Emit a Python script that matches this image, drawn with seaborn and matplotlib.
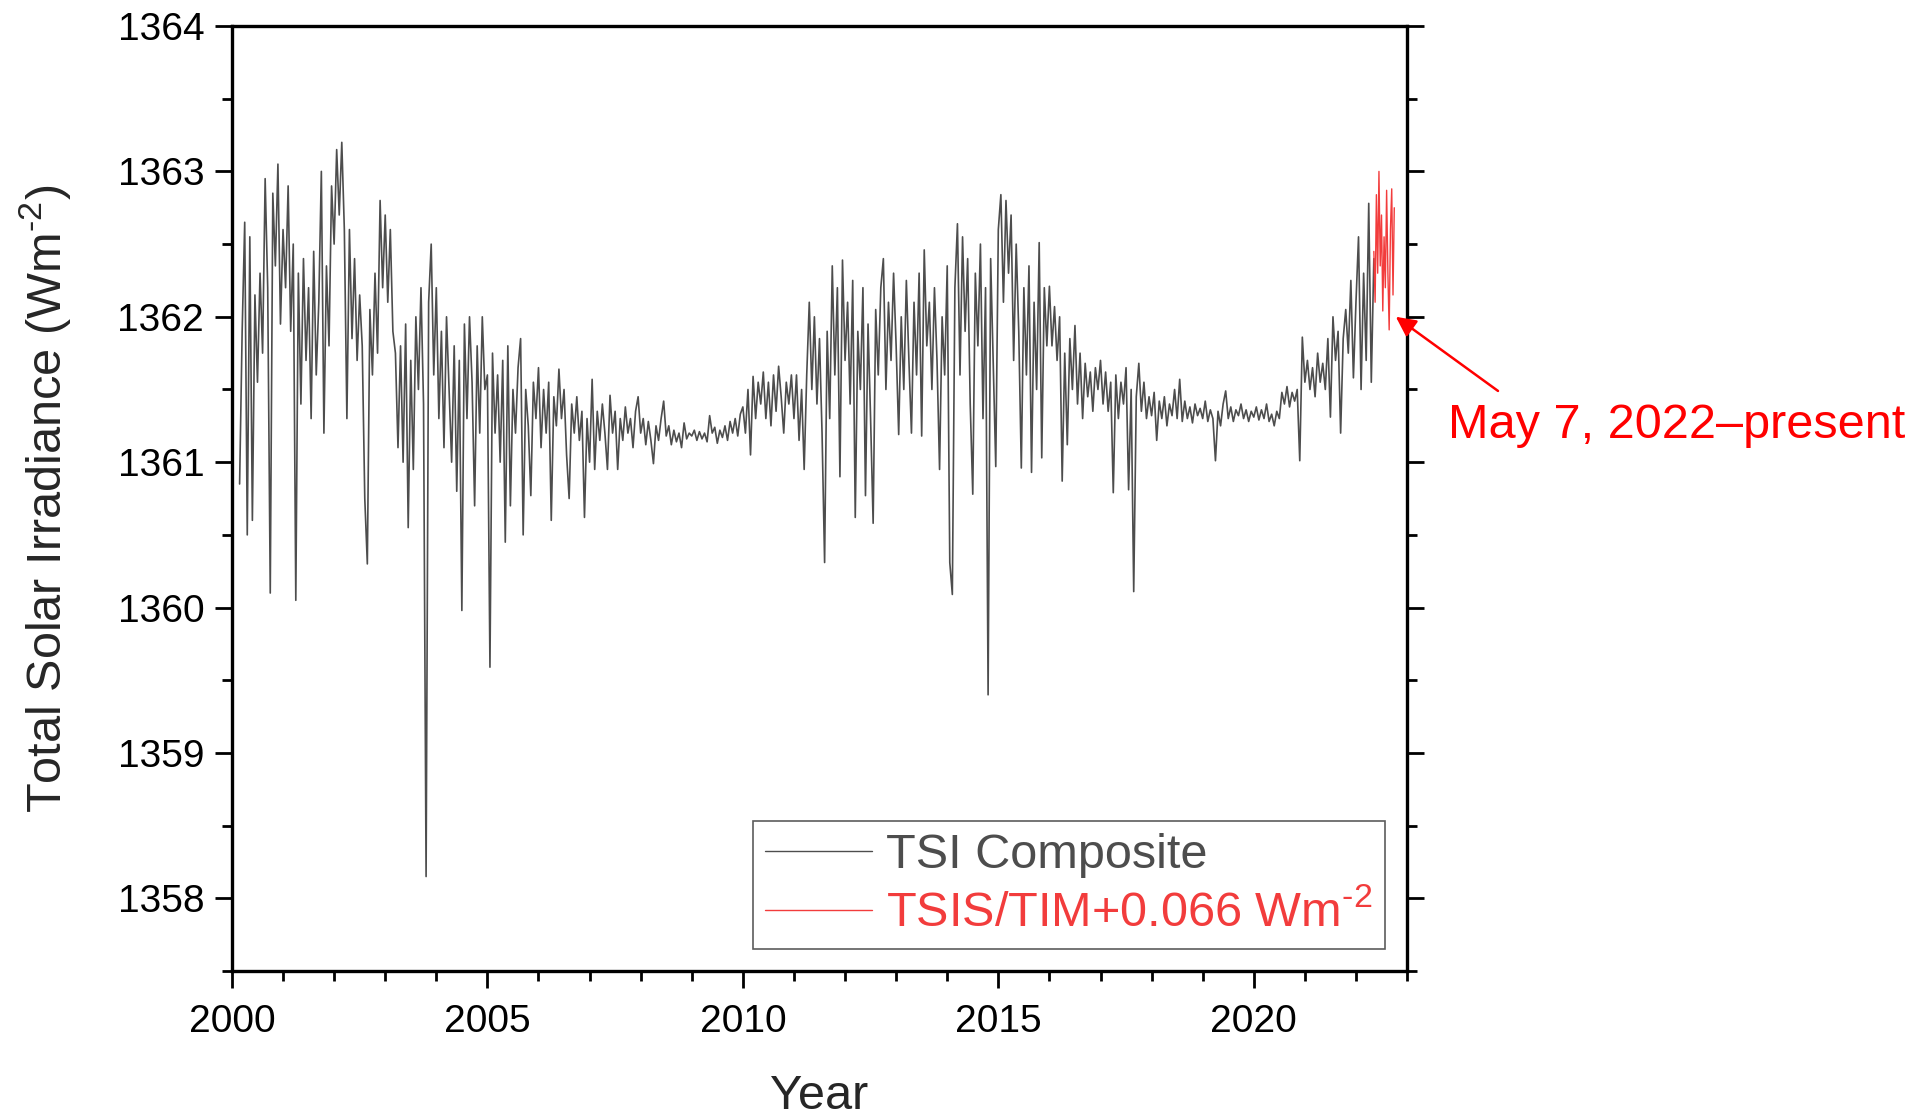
import numpy as np
import pandas as pd
import matplotlib
matplotlib.use("Agg")
import matplotlib.pyplot as plt
from matplotlib.ticker import MultipleLocator
import seaborn as sns

# TSI composite, sampled every 0.05 yr from 2000.15 to 2022.35 (W m-2)
composite_start = 2000.15
composite_step = 0.05
tsi_composite = [
    # 2000.15 - 2000.95
    1360.85, 1361.9, 1362.65, 1360.5, 1362.55, 1360.6, 1362.15, 1361.55, 1362.3, 1361.75,
    1362.95, 1362.2, 1360.1, 1362.85, 1362.35, 1363.05, 1361.95,
    # 2001
    1362.6, 1362.2, 1362.9, 1361.9, 1362.5, 1360.05, 1362.3, 1361.4, 1362.4, 1361.7,
    1362.2, 1361.3, 1362.45, 1361.6, 1362.1, 1363.0, 1361.2, 1362.35, 1361.8, 1362.9,
    # 2002
    1362.5, 1363.15, 1362.7, 1363.2, 1362.6, 1361.3, 1362.6, 1361.85, 1362.4, 1361.7,
    1362.15, 1361.8, 1360.75, 1360.3, 1362.05, 1361.6, 1362.3, 1361.75, 1362.8, 1362.2,
    # 2003
    1362.7, 1362.1, 1362.6, 1361.9, 1361.75, 1361.1, 1361.8, 1361.0, 1361.95, 1360.55,
    1361.7, 1360.95, 1362.0, 1361.5, 1362.2, 1361.4, 1358.15, 1362.1, 1362.5, 1361.6,
    # 2004
    1362.2, 1361.3, 1361.9, 1361.1, 1362.0, 1361.5, 1361.0, 1361.8, 1360.8, 1361.7,
    1359.98, 1361.95, 1361.3, 1362.0, 1361.55, 1360.7, 1361.8, 1361.2, 1362.0, 1361.5,
    # 2005
    1361.6, 1359.59, 1361.75, 1361.2, 1361.6, 1361.0, 1361.7, 1360.45, 1361.8, 1360.7,
    1361.5, 1361.2, 1361.65, 1361.85, 1360.5, 1361.5, 1361.25, 1360.77, 1361.55, 1361.3,
    # 2006
    1361.65, 1361.1, 1361.5, 1361.2, 1361.55, 1360.6, 1361.45, 1361.25, 1361.64, 1361.3,
    1361.5, 1361.05, 1360.75, 1361.4, 1361.2, 1361.45, 1361.15, 1361.35, 1360.62, 1361.3,
    # 2007
    1361.0, 1361.57, 1360.95, 1361.35, 1361.15, 1361.4, 1361.2, 1360.95, 1361.46, 1361.2,
    1361.35, 1360.95, 1361.3, 1361.15, 1361.38, 1361.2, 1361.3, 1361.1, 1361.35, 1361.45,
    # 2008
    1361.2, 1361.3, 1361.12, 1361.28, 1361.15, 1360.99, 1361.25, 1361.15, 1361.3, 1361.42,
    1361.18, 1361.25, 1361.12, 1361.22, 1361.14, 1361.2, 1361.1, 1361.27, 1361.16, 1361.2,
    # 2009
    1361.18, 1361.22, 1361.15, 1361.21, 1361.16, 1361.2, 1361.14, 1361.32, 1361.2, 1361.24,
    1361.13, 1361.22, 1361.17, 1361.25, 1361.15, 1361.28, 1361.2, 1361.3, 1361.18, 1361.33,
    # 2010
    1361.38, 1361.2, 1361.5, 1361.05, 1361.59, 1361.3, 1361.55, 1361.4, 1361.62, 1361.3,
    1361.55, 1361.25, 1361.6, 1361.35, 1361.66, 1361.45, 1361.2, 1361.55, 1361.4, 1361.6,
    # 2011
    1361.3, 1361.6, 1361.15, 1361.5, 1360.95, 1361.6, 1362.1, 1361.5, 1362.0, 1361.4,
    1361.85, 1361.2, 1360.31, 1361.9, 1361.3, 1362.35, 1361.6, 1362.2, 1360.9, 1362.39,
    # 2012
    1361.7, 1362.1, 1361.4, 1362.25, 1360.62, 1361.9, 1361.5, 1362.2, 1360.77, 1361.95,
    1361.3, 1360.58, 1362.05, 1361.6, 1362.2, 1362.4, 1361.5, 1362.1, 1361.7, 1362.3,
    # 2013
    1361.8, 1361.19, 1362.0, 1361.5, 1362.25, 1361.7, 1361.2, 1362.1, 1361.6, 1362.3,
    1361.18, 1362.46, 1361.8, 1362.1, 1361.5, 1362.2, 1361.7, 1360.95, 1362.0, 1361.6,
    # 2014
    1362.35, 1360.31, 1360.09, 1362.2, 1362.64, 1361.6, 1362.55, 1361.9, 1362.4, 1361.4,
    1360.78, 1362.3, 1361.8, 1362.5, 1361.3, 1362.2, 1359.4, 1362.4, 1361.7, 1360.97,
    # 2015
    1362.6, 1362.84, 1362.1, 1362.8, 1362.3, 1362.7, 1361.7, 1362.5, 1361.9, 1360.96,
    1362.2, 1361.6, 1362.35, 1360.93, 1362.1, 1361.5, 1362.51, 1361.03, 1362.2, 1361.8,
    # 2016
    1362.21, 1361.8, 1362.07, 1361.7, 1362.0, 1360.87, 1361.75, 1361.12, 1361.85, 1361.5,
    1361.94, 1361.4, 1361.75, 1361.3, 1361.68, 1361.45, 1361.62, 1361.35, 1361.65, 1361.5,
    # 2017
    1361.7, 1361.4, 1361.62, 1361.35, 1361.55, 1360.79, 1361.6, 1361.3, 1361.55, 1361.4,
    1361.65, 1360.81, 1361.5, 1360.11, 1361.45, 1361.68, 1361.35, 1361.55, 1361.3, 1361.45,
    # 2018
    1361.32, 1361.48, 1361.15, 1361.42, 1361.3, 1361.45, 1361.25, 1361.4, 1361.32, 1361.5,
    1361.3, 1361.57, 1361.28, 1361.42, 1361.3, 1361.38, 1361.27, 1361.4, 1361.32, 1361.37,
    # 2019
    1361.3, 1361.42, 1361.28, 1361.36, 1361.3, 1361.01, 1361.35, 1361.25, 1361.4, 1361.49,
    1361.3, 1361.38, 1361.28, 1361.36, 1361.32, 1361.4, 1361.3, 1361.36, 1361.28, 1361.35,
    # 2020
    1361.31, 1361.38, 1361.29, 1361.36, 1361.3, 1361.4, 1361.28, 1361.33, 1361.25, 1361.35,
    1361.3, 1361.48, 1361.4, 1361.52, 1361.38, 1361.48, 1361.42, 1361.5, 1361.01, 1361.86,
    # 2021
    1361.55, 1361.7, 1361.5, 1361.65, 1361.45, 1361.75, 1361.55, 1361.68, 1361.5, 1361.85,
    1361.31, 1362.0, 1361.7, 1361.9, 1361.2, 1361.85, 1362.05, 1361.75, 1362.25, 1361.58,
    # 2022.00 - 2022.35
    1362.1, 1362.55, 1361.5, 1362.3, 1361.7, 1362.78, 1361.55, 1362.4,
]

# TSIS/TIM + 0.066, every 0.025 yr from May 7, 2022
tsis_start = 2022.35
tsis_step = 0.025
tsis_tim = [
    1362.45, 1362.1, 1362.84, 1362.3, 1363.0, 1362.35, 1362.7, 1362.04, 1362.55,
    1362.2, 1362.87, 1362.3, 1361.91, 1362.6, 1362.88, 1362.15, 1362.75,
]

composite_df = pd.DataFrame({
    "year": composite_start + composite_step * np.arange(len(tsi_composite)),
    "tsi": tsi_composite,
})
tsis_df = pd.DataFrame({
    "year": tsis_start + tsis_step * np.arange(len(tsis_tim)),
    "tsi": tsis_tim,
})

sns.set_style("ticks")
plt.rcParams["font.family"] = ["Liberation Sans", "DejaVu Sans"]
plt.rcParams["mathtext.fontset"] = "custom"
plt.rcParams["mathtext.rm"] = "Liberation Sans"

gray = "#4d4d4d"
red = "#f23c3c"

fig = plt.figure(figsize=(19.28, 11.17), dpi=100)
ax = fig.add_axes([0.1203, 0.1307, 0.6095, 0.846])

sns.lineplot(data=composite_df, x="year", y="tsi", ax=ax, color=gray, lw=1.2,
             estimator=None, sort=False, label="TSI Composite")
sns.lineplot(data=tsis_df, x="year", y="tsi", ax=ax, color=red, lw=1.0,
             estimator=None, sort=False, label="TSIS/TIM+0.066 Wm$^{\\text{-2}}$")

ax.set_xlim(2000, 2023)
ax.set_ylim(1357.5, 1364)
ax.xaxis.set_major_locator(MultipleLocator(5))
ax.xaxis.set_minor_locator(MultipleLocator(1))
ax.yaxis.set_major_locator(MultipleLocator(1))
ax.yaxis.set_minor_locator(MultipleLocator(0.5))

for s in ax.spines.values():
    s.set_visible(True)
    s.set_linewidth(2.4)
    s.set_color("black")

ax.tick_params(which="both", direction="out", width=2.0, colors="black",
               left=True, right=True, bottom=True, top=False, labelsize=28)
ax.tick_params(axis="y", pad=8)
ax.tick_params(axis="x", pad=12)
ax.tick_params(which="major", length=12)
ax.tick_params(which="minor", length=7)

ax.set_xlabel("Year", fontsize=35, labelpad=24)
ax.set_ylabel("Total Solar Irradiance (Wm$^{\\text{-2}}$)", fontsize=35, labelpad=31)

leg = ax.legend(loc="lower right", bbox_to_anchor=(0.981, 0.0233), fontsize=35,
                frameon=True, fancybox=False, edgecolor="#333333",
                handlelength=2.2, handletextpad=0.3, labelspacing=0.25,
                borderpad=0.25, borderaxespad=0, labelcolor="linecolor")
leg.get_frame().set_linewidth(1.2)
for line in leg.get_lines():
    line.set_linewidth(1.0)

ax.annotate("", xy=(2022.78, 1362.0), xytext=(2024.78, 1361.49),
            arrowprops=dict(arrowstyle="-|>", color="red", lw=1.8,
                            mutation_scale=30, shrinkA=0, shrinkB=0),
            annotation_clip=False)
ax.text(2023.8, 1361.25, "May 7, 2022\u2013present", color="red", fontsize=35,
        ha="left", va="center", clip_on=False)

fig.savefig("out.png", dpi=100)
